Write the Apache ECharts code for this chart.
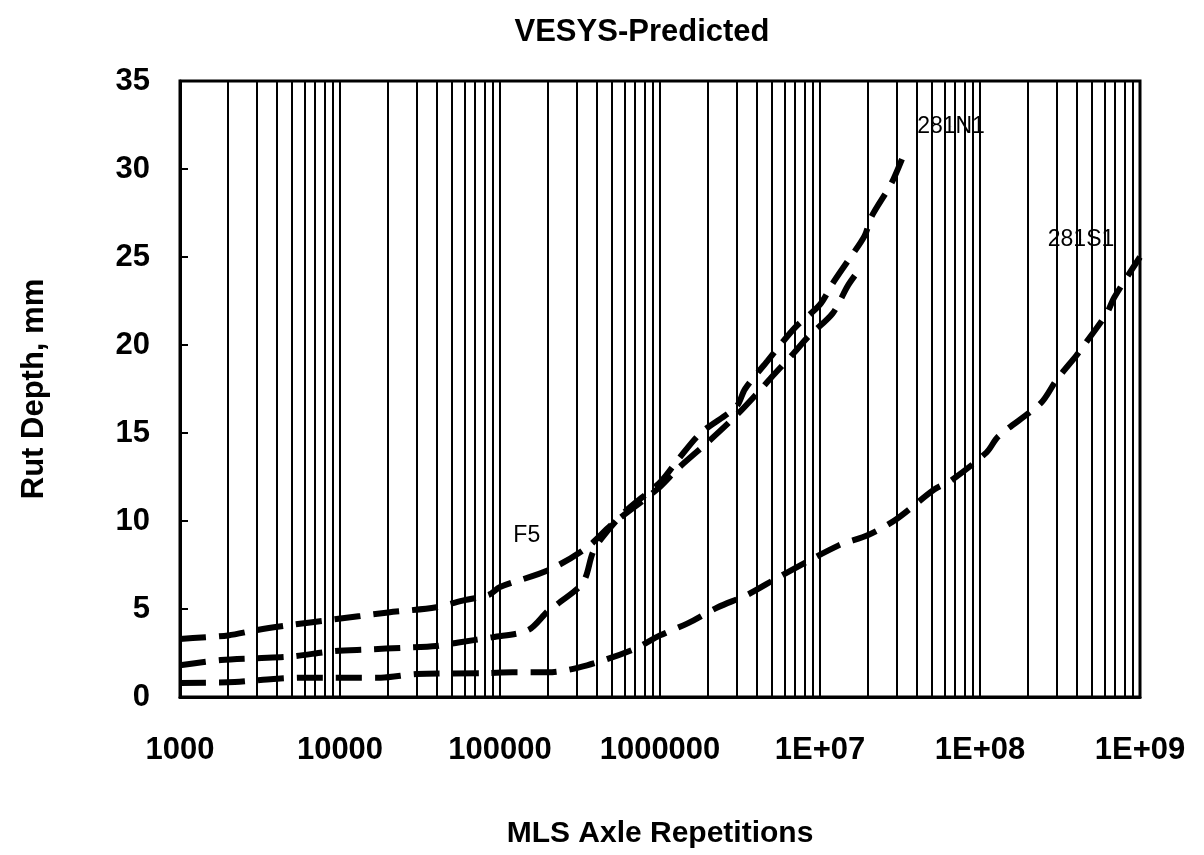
<!DOCTYPE html>
<html>
<head>
<meta charset="utf-8">
<script src="https://cdn.jsdelivr.net/npm/echarts@6/dist/echarts.min.js"></script>
<style>
html,body{margin:0;padding:0;background:#fff;}
#chart{width:1204px;height:855px;}
</style>
</head>
<body>
<div id="chart"></div>
<script>
// ---- data ----
const xTickLabels = ['1000', '10000', '100000', '1000000', '1E+07', '1E+08', '1E+09'];
const yTicks = [0, 5, 10, 15, 20, 25, 30, 35];

const seriesF5 = [
  [1000, 3.3], [2000, 3.5], [3000, 3.8], [5000, 4.1], [9000, 4.4], [20000, 4.8],
  [40000, 5.1], [60000, 5.5], [85000, 5.8], [100000, 6.25], [200000, 7.2],
  [350000, 8.5], [500000, 9.8], [960000, 11.8], [1300000, 13.0], [2000000, 14.5],
  [3000000, 16.0], [4000000, 17.2], [4900000, 18.1], [6800000, 19.5],
  [8500000, 20.5], [12000000, 21.8], [15000000, 23.4], [18000000, 24.4]
];
const series281N1 = [
  [1000, 1.8], [1800, 2.1], [3000, 2.2], [5000, 2.3], [9000, 2.6], [15000, 2.7],
  [25000, 2.8], [40000, 2.9], [55000, 3.1], [90000, 3.4], [150000, 3.8],
  [200000, 4.9], [230000, 5.3], [330000, 6.5], [380000, 8.2], [430000, 9.0],
  [600000, 10.5], [1000000, 12.2], [1300000, 13.5], [1800000, 15.0],
  [3000000, 16.5], [3400000, 17.5], [4700000, 19.1], [7000000, 21.0],
  [10000000, 22.3], [12000000, 23.5], [15000000, 24.8], [19000000, 26.2],
  [21000000, 27.3], [28000000, 29.2], [34000000, 31.0]
];
const series281S1 = [
  [1000, 0.8], [2200, 0.85], [3500, 1.0], [6000, 1.1], [18000, 1.1], [30000, 1.3],
  [80000, 1.35], [120000, 1.4], [200000, 1.4], [350000, 1.8], [680000, 2.7],
  [1000000, 3.5], [1500000, 4.2], [2300000, 5.1], [3500000, 5.8], [5500000, 6.8],
  [13000000, 8.6], [20000000, 9.2], [30000000, 10.1], [52000000, 11.8],
  [66000000, 12.3], [110000000, 13.9], [130000000, 14.8], [240000000, 16.7],
  [300000000, 18.0], [400000000, 19.4], [440000000, 19.9], [620000000, 21.8],
  [690000000, 22.7], [1000000000, 25.0]
];
const curveLabels = [
  [147000, 9.15, 'F5'],
  [65900000, 32.4, '281N1'],
  [428000000, 26.0, '281S1']
];
// vertical grid positions (log-scale minor ticks: 1..9 x each decade)
const gridMantissas = [1, 2, 3, 4, 5, 6, 7, 8, 9];
const gridDecades = [1e3, 1e4, 1e5, 1e6, 1e7, 1e8];

const gridX = [];
gridDecades.forEach(d => gridMantissas.forEach(m => gridX.push(m * d)));
gridX.push(1e9);

const FONT = '"Liberation Sans", Arial, sans-serif';
const chart = echarts.init(document.getElementById('chart'), null, {renderer: 'canvas'});

const lineStyleCurve = {color: '#000', width: 6, type: [26, 13], cap: 'butt'};

chart.setOption({
  backgroundColor: '#fff',
  animation: false,
  title: {
    text: 'VESYS-Predicted',
    left: 637, top: 12, textAlign: 'center',
    textStyle: {fontFamily: FONT, fontWeight: 'bold', fontSize: 31, color: '#000'}
  },
  grid: {
    left: 180, right: 64, top: 81, bottom: 158,
    show: true, borderColor: '#000', borderWidth: 3, backgroundColor: 'transparent'
  },
  xAxis: {
    type: 'log', logBase: 10, min: 1000, max: 1e9,
    name: 'MLS Axle Repetitions', nameLocation: 'middle', nameGap: 122,
    nameTextStyle: {fontFamily: FONT, fontWeight: 'bold', fontSize: 30, color: '#000'},
    axisLine: {show: true, lineStyle: {color: '#000', width: 3}},
    axisTick: {show: false},
    splitLine: {show: false},
    axisLabel: {
      margin: 38, color: '#000', fontFamily: FONT, fontWeight: 'bold', fontSize: 31,
      formatter: v => xTickLabels[Math.round(Math.log10(v)) - 3] || ''
    }
  },
  yAxis: {
    type: 'value', min: 0, max: 35, interval: 5,
    name: 'Rut Depth, mm', nameLocation: 'middle', nameGap: 130, nameRotate: 90,
    nameTextStyle: {fontFamily: FONT, fontWeight: 'bold', fontSize: 31, color: '#000'},
    axisLine: {show: true, lineStyle: {color: '#000', width: 3}},
    axisTick: {show: true, inside: true, length: 8, lineStyle: {color: '#000', width: 2}},
    splitLine: {show: false},
    axisLabel: {
      margin: 30, color: '#000', fontFamily: FONT, fontWeight: 'bold', fontSize: 31,
      formatter: v => (yTicks.indexOf(v) >= 0 ? String(v) : '')
    }
  },
  series: [
    {
      name: 'F5', type: 'line', data: seriesF5, showSymbol: false, smooth: 0.3,
      lineStyle: lineStyleCurve, z: 3,
      markLine: {
        silent: true, symbol: 'none', animation: false,
        label: {show: false},
        lineStyle: {color: '#000', width: 2, type: 'solid'},
        data: gridX.map(v => ({xAxis: v}))
      }
    },
    {
      name: '281N1', type: 'line', data: series281N1, showSymbol: false, smooth: 0.3,
      lineStyle: lineStyleCurve, z: 3
    },
    {
      name: '281S1', type: 'line', data: series281S1, showSymbol: false, smooth: 0.3,
      lineStyle: lineStyleCurve, z: 3
    },
    {
      name: 'labels', type: 'scatter', data: curveLabels, symbolSize: 0.5,
      itemStyle: {color: '#000', opacity: 1}, z: 5, silent: true,
      label: {
        show: true, position: 'inside', color: '#000', opacity: 1,
        textBorderWidth: 0,
        fontFamily: FONT, fontSize: 23,
        formatter: p => p.value[2]
      }
    }
  ]
});
</script>
</body>
</html>
